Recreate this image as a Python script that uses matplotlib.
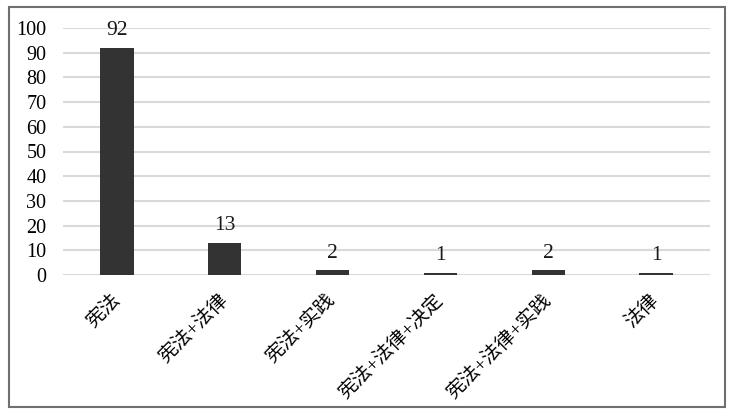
import matplotlib.pyplot as plt
import numpy as np

plt.rcParams["font.family"] = ["Liberation Serif", "Noto Sans CJK SC", "DejaVu Sans"]

categories = ["宪法", "宪法+法律", "宪法+实践", "宪法+法律+决定", "宪法+法律+实践", "法律"]
counts = [92, 13, 2, 1, 2, 1]
yticks = list(range(0, 101, 10))

fig = plt.figure(figsize=(7.33, 4.13), dpi=100)
# outer frame
fig.patches.append(plt.Rectangle((9 / 733, 1 - 407 / 413), 716 / 733, 400 / 413,
                                 transform=fig.transFigure, fill=False,
                                 edgecolor="#6f6f6f", linewidth=1.5))

ax = fig.add_axes([63 / 733, 1 - 275 / 413, 647 / 733, 247 / 413])
x = np.arange(len(categories))
bars = ax.bar(x, counts, width=0.31, color="#333333", zorder=3)

for xi, v in zip(x, counts):
    ax.text(xi, v + 3, str(v), ha="center", va="bottom", fontsize=15.5,
            color="#1a1a1a", clip_on=False)

ax.set_xlim(-0.5, len(categories) - 0.5)
ax.set_ylim(0, 100)
ax.set_yticks(yticks)
ax.set_yticklabels([str(t) for t in yticks], fontsize=14.5)
ax.yaxis.grid(True, color="#d9d9d9", linewidth=1.5, zorder=0)
ax.set_axisbelow(True)
for s in ax.spines.values():
    s.set_visible(False)
ax.tick_params(axis="both", length=0)
ax.tick_params(axis="y", pad=12)

ax.set_xticks(x)
ax.set_xticklabels(categories, rotation=45, ha="right", va="center",
                   rotation_mode="anchor", fontsize=14)
ax.tick_params(axis="x", pad=16)

fig.savefig("out.png", dpi=100)
